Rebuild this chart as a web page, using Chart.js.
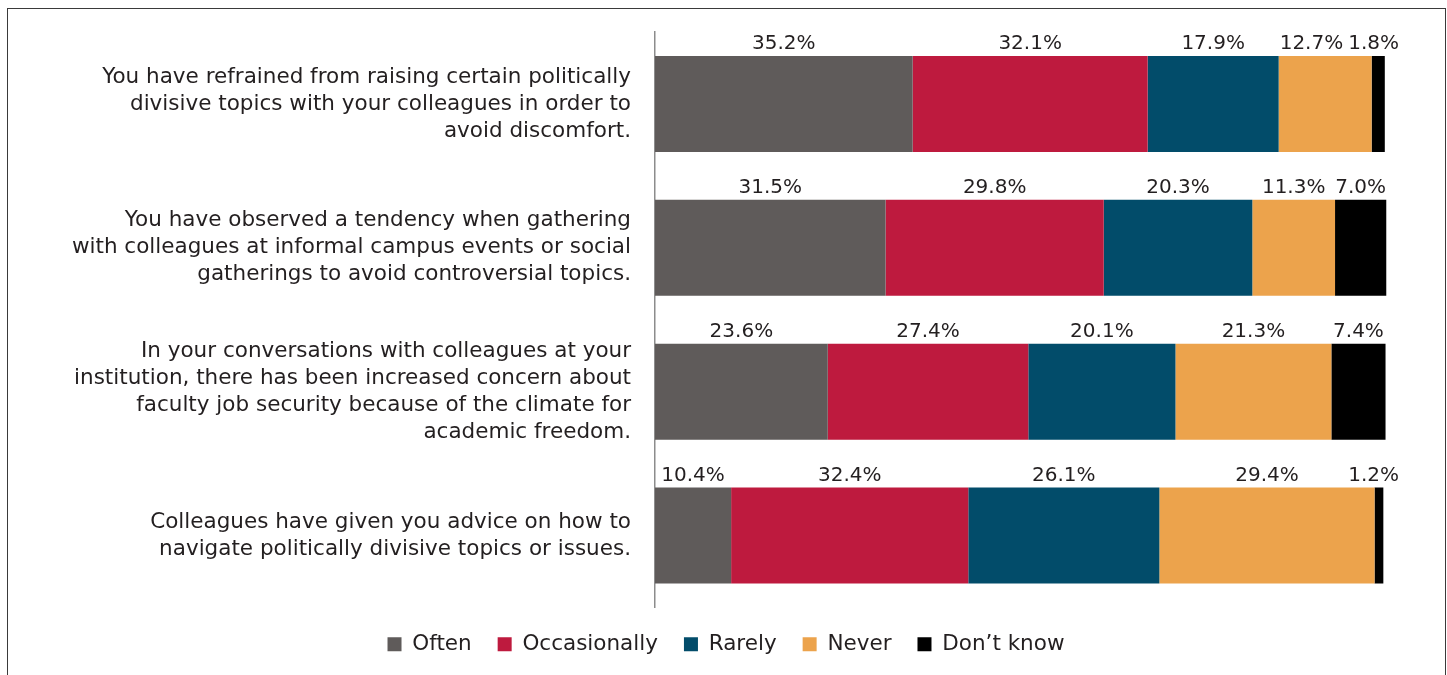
<!DOCTYPE html>
<html>
<head>
<meta charset="utf-8">
<script src="https://cdn.jsdelivr.net/npm/chart.js@4.4.1/dist/chart.umd.min.js"></script>
<style>
  html, body { margin: 0; padding: 0; background: #fff; overflow: hidden; }
  #wrap { position: relative; width: 1447px; height: 675px; }
  #frame {
    position: absolute; left: 7px; top: 8px; width: 1437px; height: 700px;
    border: 1.5px solid #3a3a3a; border-bottom: none; pointer-events: none;
  }
</style>
</head>
<body>
<div id="wrap">
  <canvas id="myChart" width="1447" height="675"></canvas>
  <div id="frame"></div>
</div>
<script>
const questions = [
  ["You have refrained from raising certain politically", "divisive topics with your colleagues in order to", "avoid discomfort."],
  ["You have observed a tendency when gathering", "with colleagues at informal campus events or social", "gatherings to avoid controversial topics."],
  ["In your conversations with colleagues at your", "institution, there has been increased concern about", "faculty job security because of the climate for", "academic freedom."],
  ["Colleagues have given you advice on how to", "navigate politically divisive topics or issues."]
];
const often = [35.2, 31.5, 23.6, 10.4];
const occasionally = [32.1, 29.8, 27.4, 32.4];
const rarely = [17.9, 20.3, 20.1, 26.1];
const never = [12.7, 11.3, 21.3, 29.4];
const dontKnow = [1.8, 7.0, 7.4, 1.2];

const textColor = "#231f20";
const fontFamily = "'DejaVu Sans', sans-serif";

// percent labels above each segment, nudged left so they don't collide
const valueLabels = {
  id: "valueLabels",
  afterDatasetsDraw(chart) {
    const ctx = chart.ctx;
    ctx.save();
    ctx.font = "20px " + fontFamily;
    ctx.fillStyle = textColor;
    ctx.textAlign = "center";
    ctx.textBaseline = "middle";
    const rows = chart.data.labels.length;
    for (let j = 0; j < rows; j++) {
      const items = [];
      chart.data.datasets.forEach((ds, i) => {
        const bar = chart.getDatasetMeta(i).data[j];
        const text = ds.data[j].toFixed(1) + "%";
        items.push({
          text,
          x: (bar.x + bar.base) / 2,
          y: bar.y - bar.height / 2 - 12,
          w: ctx.measureText(text).width
        });
      });
      let limit = chart.chartArea.right + 12;
      for (let k = items.length - 1; k >= 0; k--) {
        const it = items[k];
        if (it.x + it.w / 2 > limit) it.x = limit - it.w / 2;
        limit = it.x - it.w / 2 - 5;
      }
      items.forEach(it => ctx.fillText(it.text, it.x, it.y));
    }
    ctx.restore();
  }
};

const ctx = document.getElementById("myChart").getContext("2d");
new Chart(ctx, {
  type: "bar",
  data: {
    labels: questions,
    datasets: [
      { label: "Often", data: often, backgroundColor: "#5f5b5a" },
      { label: "Occasionally", data: occasionally, backgroundColor: "#be1a3e" },
      { label: "Rarely", data: rarely, backgroundColor: "#024c6a" },
      { label: "Never", data: never, backgroundColor: "#eca34c" },
      { label: "Don\u2019t know", data: dontKnow, backgroundColor: "#000000" }
    ]
  },
  options: {
    indexAxis: "y",
    responsive: false,
    animation: false,
    barPercentage: 1,
    categoryPercentage: 0.668,
    layout: {
      padding: { top: 32, right: 0, bottom: 10, left: 5 }
    },
    plugins: {
      tooltip: { enabled: false },
      legend: {
        position: "bottom",
        labels: {
          boxWidth: 14,
          boxHeight: 14,
          padding: 26,
          color: textColor,
          font: { size: 21.5, family: fontFamily }
        }
      }
    },
    scales: {
      x: {
        stacked: true,
        display: false,
        min: 0,
        max: 100
      },
      y: {
        stacked: true,
        grid: { display: false, drawTicks: false },
        border: { display: true, color: "#8c8c8c", width: 1.5 },
        ticks: {
          padding: 24,
          color: textColor,
          font: { size: 21.5, family: fontFamily, lineHeight: 27 / 21.5 }
        },
        afterFit(scale) {
          scale.width = 650;
          scale.paddingTop = 0;
          scale.paddingBottom = 0;
        }
      },
      // empty right-hand spacer so the plot ends where the original does
      spacer: {
        type: "category",
        axis: "y",
        position: "right",
        labels: [""],
        grid: { display: false, drawTicks: false },
        border: { display: false },
        ticks: { display: false },
        afterFit(scale) {
          scale.width = 60;
          scale.paddingTop = 0;
          scale.paddingBottom = 0;
        }
      }
    }
  },
  plugins: [valueLabels]
});
</script>
</body>
</html>
